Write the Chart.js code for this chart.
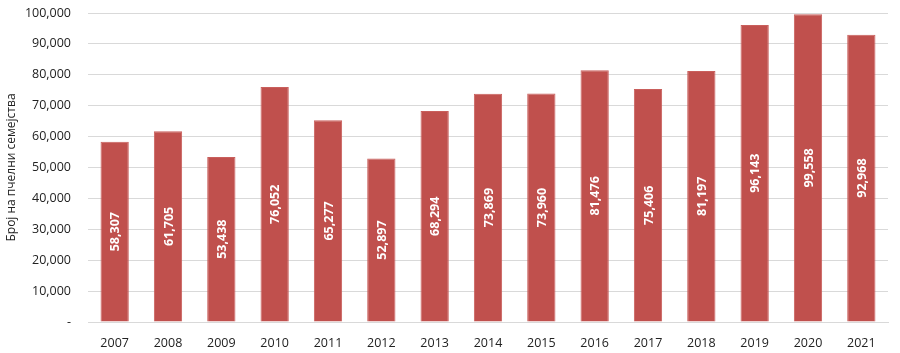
<!DOCTYPE html>
<html>
<head>
<meta charset="utf-8">
<script src="https://cdn.jsdelivr.net/npm/chart.js@4/dist/chart.umd.min.js"></script>
<style>
  html, body { margin: 0; padding: 0; background: #fff; }
  #wrap { width: 900px; height: 353px; }
</style>
</head>
<body>
<div id="wrap"><canvas id="chart"></canvas></div>
<script>
const years = ['2007', '2008', '2009', '2010', '2011', '2012', '2013', '2014', '2015', '2016', '2017', '2018', '2019', '2020', '2021'];
const colonies = [58307, 61705, 53438, 76052, 65277, 52897, 68294, 73869, 73960, 81476, 75406, 81197, 96143, 99558, 92968];
const yTitle = 'Број на пчелни семејства';

const fmt = (v) => v.toLocaleString('en-US');

// value labels, rotated, in the middle of each bar
const barLabels = {
    id: 'barLabels',
    afterDatasetsDraw(chart) {
        const ctx = chart.ctx;
        const meta = chart.getDatasetMeta(0);
        ctx.save();
        ctx.fillStyle = '#ffffff';
        ctx.font = 'bold 12.5px "Open Sans", sans-serif';
        ctx.textAlign = 'center';
        ctx.textBaseline = 'middle';
        meta.data.forEach((bar, i) => {
            const y = (bar.y + bar.base) / 2;
            ctx.save();
            ctx.translate(bar.x, y);
            ctx.rotate(-Math.PI / 2);
            ctx.fillText(fmt(colonies[i]), 0, 1);
            ctx.restore();
        });
        ctx.restore();
    }
};

const ctx = document.getElementById('chart').getContext('2d');
new Chart(ctx, {
    type: 'bar',
    data: {
        labels: years,
        datasets: [{
            data: colonies,
            backgroundColor: '#c0504d',
            borderColor: '#c95f5c',
            borderWidth: 1,
            categoryPercentage: 1,
            barPercentage: 0.53
        }]
    },
    options: {
        responsive: true,
        maintainAspectRatio: false,
        animation: false,
        layout: { padding: { top: 13, right: 12, bottom: 0, left: 0 } },
        plugins: {
            legend: { display: false },
            tooltip: { enabled: false }
        },
        scales: {
            x: {
                afterFit: (scale) => { scale.height = 31; },
                grid: { display: false },
                border: { color: '#d9d9d9' },
                ticks: {
                    color: '#222',
                    font: { family: '"Open Sans", sans-serif', size: 12.5 },
                    padding: 6
                }
            },
            y: {
                min: 0,
                max: 100000,
                afterFit: (scale) => {
                    scale.width = 88;
                    scale.paddingTop = 0;
                    scale.paddingBottom = 0;
                },
                grid: { color: '#d9d9d9', drawTicks: false },
                border: { display: false },
                ticks: {
                    stepSize: 10000,
                    color: '#222',
                    padding: 17,
                    font: { family: '"Open Sans", sans-serif', size: 12.5 },
                    callback: (v) => (v === 0 ? '-' : fmt(v))
                },
                title: {
                    display: true,
                    text: yTitle,
                    color: '#222',
                    font: { family: '"Open Sans", sans-serif', size: 12 },
                    padding: { top: 4, bottom: 0 }
                }
            }
        }
    },
    plugins: [barLabels]
});
</script>
</body>
</html>
